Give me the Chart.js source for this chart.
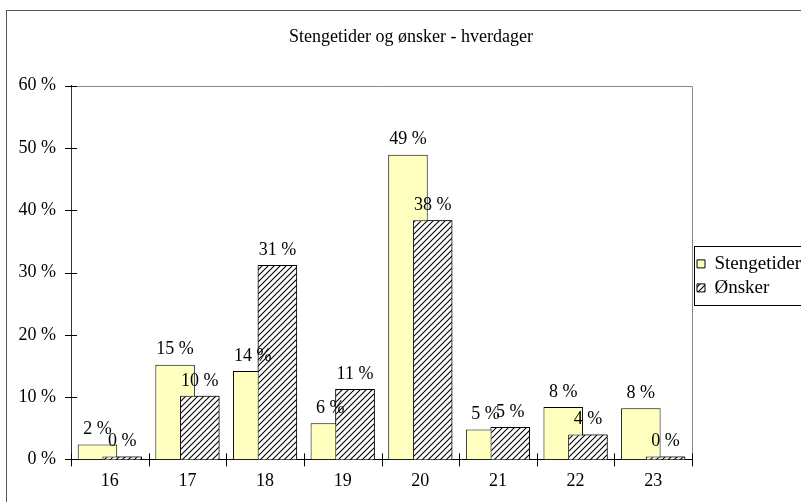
<!DOCTYPE html>
<html>
<head>
<meta charset="utf-8">
<script src="https://cdn.jsdelivr.net/npm/chart.js@4/dist/chart.umd.min.js"></script>
<style>
  body { margin: 0; background: #fff; }
  #wrap { width: 801px; height: 502px; position: relative; }
</style>
</head>
<body>
<div id="wrap"><canvas id="grafico"></canvas></div>
<script>
// dados
const timer = ['16', '17', '18', '19', '20', '21', '22', '23'];
const stengetider = [2.4, 15.2, 14.2, 5.8, 48.9, 4.8, 8.4, 8.2];
const onsker = [0.45, 10.2, 31.2, 11.3, 38.4, 5.2, 4.0, 0.45];
const yTicks = [0, 10, 20, 30, 40, 50, 60];

const tittel = 'Stengetider og ønsker - hverdager';
const serieNavn = ['Stengetider', 'Ønsker'];

Chart.defaults.font.family = '"Liberation Serif", "Times New Roman", serif';
Chart.defaults.font.size = 18;
Chart.defaults.color = '#000';

// skravert mønster (hvit bakgrunn, svarte skrålinjer)
function lagMonster() {
    const c = document.createElement('canvas');
    c.width = 6; c.height = 6;
    const x = c.getContext('2d');
    x.fillStyle = '#fff';
    x.fillRect(0, 0, 6, 6);
    x.strokeStyle = '#000';
    x.lineWidth = 1.1;
    x.beginPath();
    x.moveTo(0, 6); x.lineTo(6, 0);
    x.moveTo(-1, 1); x.lineTo(1, -1);
    x.moveTo(5, 7); x.lineTo(7, 5);
    x.stroke();
    return x.createPattern(c, 'repeat');
}

// ramme rundt hele diagrammet og plottområdet
const rammePlugin = {
    id: 'ramme',
    beforeDraw(chart) {
        // tittelen er sentrert litt til høyre i originalen
        chart.titleBlock.left = 21;
        const ctx = chart.ctx;
        ctx.save();
        ctx.strokeStyle = '#555';
        ctx.lineWidth = 1;
        ctx.strokeRect(6.5, 10.5, chart.width + 20, chart.height + 20);
        ctx.restore();
    },
    beforeDatasetsDraw(chart) {
        const a = chart.chartArea;
        const ctx = chart.ctx;
        ctx.save();
        ctx.strokeStyle = '#888';
        ctx.lineWidth = 1;
        ctx.beginPath();
        ctx.moveTo(a.left, Math.round(a.top) + 0.5);
        ctx.lineTo(Math.round(a.right) + 0.5, Math.round(a.top) + 0.5);
        ctx.lineTo(Math.round(a.right) + 0.5, a.bottom);
        ctx.stroke();
        ctx.restore();
    },
    afterDatasetsDraw(chart) {
        const ctx = chart.ctx;
        // skraverte søyler skal ligge over de gule
        chart.getDatasetMeta(1).controller.draw();

        // verdietiketter
        ctx.save();
        ctx.font = '18px "Liberation Serif", "Times New Roman", serif';
        ctx.fillStyle = '#000';
        ctx.textAlign = 'center';
        ctx.textBaseline = 'bottom';
        chart.data.datasets.forEach((ds, i) => {
            chart.getDatasetMeta(i).data.forEach((bar, j) => {
                ctx.fillText(Math.round(ds.data[j]) + ' %', bar.x, bar.y - 6);
            });
        });
        ctx.restore();
    },
    afterDraw(chart) {
        // kryssende merker på aksene
        const ctx = chart.ctx;
        const a = chart.chartArea;
        const y = chart.scales.y;
        ctx.save();
        ctx.strokeStyle = '#000';
        ctx.lineWidth = 1;
        ctx.beginPath();
        y.ticks.forEach((t, i) => {
            const py = Math.round(y.getPixelForTick(i)) + 0.5;
            ctx.moveTo(a.left - 6, py);
            ctx.lineTo(a.left + 6, py);
        });
        const bredde = (a.right - a.left) / timer.length;
        for (let i = 0; i <= timer.length; i++) {
            const px = Math.round(a.left + i * bredde) + 0.5;
            ctx.moveTo(px, a.bottom - 6);
            ctx.lineTo(px, a.bottom + 7);
        }
        ctx.stroke();

        // ramme rundt forklaringen
        const hb = chart.legend.legendHitBoxes;
        if (hb && hb.length) {
            const top = hb[0].top - 8;
            const bunn = hb[hb.length - 1].top + hb[hb.length - 1].height + 8;
            ctx.strokeStyle = '#000';
            ctx.strokeRect(Math.round(hb[0].left) - 2.5, Math.round(top) + 0.5, 200, Math.round(bunn - top));
        }
        ctx.restore();
    }
};

window.onload = function () {
    const ctx = document.getElementById('grafico').getContext('2d');
    const monster = lagMonster();

    new Chart(ctx, {
        type: 'bar',
        data: {
            labels: timer,
            datasets: [{
                label: serieNavn[0],
                data: stengetider,
                backgroundColor: '#ffffc0',
                borderColor: '#000',
                borderWidth: 1
            }, {
                label: serieNavn[1],
                data: onsker,
                backgroundColor: monster,
                borderColor: '#000',
                borderWidth: 1
            }]
        },
        options: {
            responsive: true,
            maintainAspectRatio: false,
            animation: false,
            categoryPercentage: 0.636,
            barPercentage: 1.6,
            layout: { padding: { left: 10, right: 0, top: 10, bottom: 7 } },
            plugins: {
                title: {
                    display: true,
                    text: tittel,
                    font: { size: 18, weight: 'normal' },
                    padding: { top: 16, bottom: 38 }
                },
                legend: {
                    position: 'right',
                    maxWidth: 109,
                    title: { display: true, text: ' ', padding: { top: 12, bottom: 12 }, font: { size: 19 } },
                    labels: {
                        boxWidth: 8,
                        boxHeight: 8,
                        padding: 5,
                        font: { size: 19 }
                    }
                },
                tooltip: { enabled: false }
            },
            scales: {
                x: {
                    grid: { display: false, drawOnChartArea: false },
                    border: { display: true, color: '#000' },
                    ticks: { padding: 3 }
                },
                y: {
                    min: 0,
                    max: 60,
                    afterBuildTicks: (s) => { s.ticks = yTicks.map(v => ({ value: v })); },
                    afterFit: (s) => { s.width = 61; },
                    grid: { display: false, drawOnChartArea: false },
                    border: { display: true, color: '#333' },
                    ticks: {
                        padding: 7,
                        callback: (v) => v + ' %'
                    }
                }
            }
        },
        plugins: [rammePlugin]
    });
};
</script>
</body>
</html>
